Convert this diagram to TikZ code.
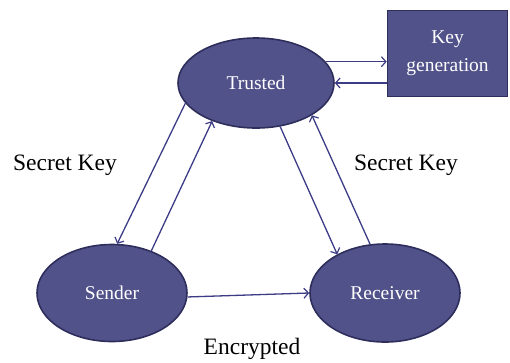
\documentclass[tikz,border=0pt]{standalone}
\usepackage{fontspec}
\setmainfont{Liberation Serif}
\usetikzlibrary{shapes.geometric,arrows.meta,calc}
\definecolor{nodefill}{HTML}{52528A}
\definecolor{nodeline}{HTML}{2E2E5C}
\definecolor{arrowcol}{HTML}{3C3C86}
\tikzset{
  party/.style={ellipse, draw=nodeline, line width=1.6pt, fill=nodefill,
    inner sep=0pt, text=white, font=\fontsize{19.5}{22}\selectfont},
  genbox/.style={rectangle, draw=nodeline, line width=1.6pt, fill=nodefill,
    inner sep=0pt, text=white, align=center, font=\fontsize{19.5}{28}\selectfont},
  flow/.style={draw=arrowcol, line width=1.3pt,
    -{Straight Barb[length=4.5pt,width=10pt,line width=1.2pt]}},
  caption/.style={text=black, inner sep=0pt, font=\fontsize{23.5}{26}\selectfont}
}
\begin{document}
\begin{tikzpicture}[x=1pt,y=-1pt]
\useasboundingbox (0,0) rectangle (510,362);

% parties
\node[party, minimum width=156pt, minimum height=90pt] (trusted) at (256,83) {Trusted};
\node[party, minimum width=150pt, minimum height=97pt] (sender) at (112,293) {Sender};
\node[party, minimum width=150pt, minimum height=98pt] (receiver) at (385,293) {Receiver};
\node[genbox, minimum width=120pt, minimum height=86pt] (keygen) at (447.5,53.5) {Key\\generation};

% key exchange with the generator
\draw[flow] (trusted.17) -- (trusted.17 -| keygen.west);
\draw[flow] (trusted.east -| keygen.west) -- (trusted.east);

% secret keys handed out and returned
\draw[flow] (trusted.196) -- (sender.84);
\draw[flow] (sender.47) -- (trusted.221);
\draw[flow] (trusted.299) -- (receiver.141);
\draw[flow] (receiver.107) -- (trusted.330);

% encrypted message
\draw[flow] (sender.357) -- (receiver.west);

% labels
\node[caption] (skl) at (65,165) {Secret Key};
\node[caption] (skr) at (406,165) {Secret Key};
\node[caption] (enc) at (252,349) {Encrypted};
\end{tikzpicture}
\end{document}
